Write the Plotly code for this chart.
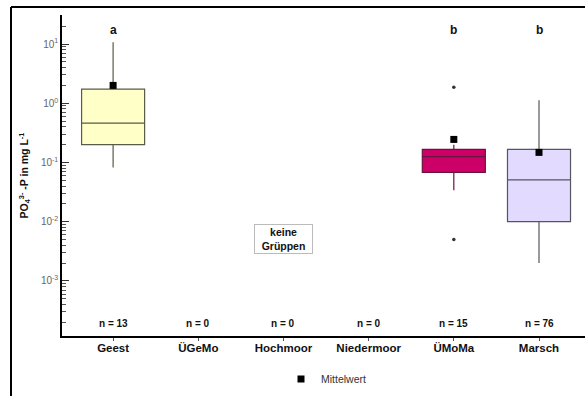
import plotly.graph_objects as go
import numpy as np

categories = ["Geest", "ÜGeMo", "Hochmoor", "Niedermoor", "ÜMoMa", "Marsch"]
n_counts = [13, 0, 0, 0, 15, 76]
letters = ["a", "", "", "", "b", "b"]

box_cats = [0, 4, 5]
q1 = [0.20, 0.068, 0.010]
median = [0.46, 0.126, 0.051]
q3 = [1.73, 0.166, 0.166]
lower_whisker = [0.082, 0.034, 0.002]
upper_whisker = [10.7, 0.20, 1.12]
means = [2.0, 0.245, 0.148]
fills = ["#FFFFC8", "#CC0066", "#E2DAFF"]
edges = ["#5A5A48", "#6A1440", "#555560"]

outlier_x = [4, 4]
outlier_y = [1.87, 0.005]

FONT = "Arial, Liberation Sans, sans-serif"

fig = go.Figure()
for i, c in enumerate(box_cats):
    fig.add_trace(go.Box(
        x=[c], q1=[q1[i]], median=[median[i]], q3=[q3[i]],
        lowerfence=[lower_whisker[i]], upperfence=[upper_whisker[i]],
        fillcolor=fills[i], line=dict(color=edges[i], width=1.2),
        whiskerwidth=0, width=0.74, showlegend=False, hoverinfo="skip",
    ))

fig.add_trace(go.Scatter(
    x=outlier_x, y=outlier_y, mode="markers",
    marker=dict(symbol="circle", size=3.5, color="#333"),
    showlegend=False, hoverinfo="skip"))

fig.add_trace(go.Scatter(
    x=box_cats, y=means, mode="markers", name="Mittelwert",
    marker=dict(symbol="square", size=7, color="black"),
    showlegend=True, hoverinfo="skip"))

tickvals = [1e-3, 1e-2, 1e-1, 1, 10]
ticktext = ["10<sup>-3</sup>", "10<sup>-2</sup>", "10<sup>-1</sup>", "10<sup>0</sup>", "10<sup>1</sup>"]

L, R, T, B = 62, 0, 15, 60
W, H = 585, 396
ph = H - T - B
pw = W - L - R

def py(pix):
    return (H - B - pix) / ph

def px(pix):
    return (pix - L) / pw

annotations = []
for i, cat in enumerate(categories):
    annotations.append(dict(x=i, y=py(323), xref="x", yref="paper",
                            xanchor="center", yanchor="middle",
                            text=f"<b>n = {n_counts[i]}</b>", showarrow=False,
                            font=dict(family=FONT, size=10, color="#111")))
    if letters[i]:
        annotations.append(dict(x=i, y=py(30), xref="x", yref="paper",
                                xanchor="center", yanchor="middle",
                                text=f"<b>{letters[i]}</b>", showarrow=False,
                                font=dict(family=FONT, size=12, color="#111")))

annotations.append(dict(x=2, y=py(238.5), xref="x", yref="paper",
                        xanchor="center", yanchor="middle",
                        text="<b>keine<br>Grüppen</b>", showarrow=False,
                        font=dict(family=FONT, size=10.5, color="#111"),
                        bgcolor="white", bordercolor="#BBBBBB", borderwidth=1,
                        borderpad=1, width=55))

fig.update_layout(
    width=W, height=H,
    margin=dict(l=L, r=R, t=T, b=B),
    paper_bgcolor="white", plot_bgcolor="white",
    font=dict(family=FONT, color="#111"),
    xaxis=dict(
        range=[-0.6, 5.54], tickvals=list(range(len(categories))),
        ticktext=[f"<b>{c}</b>" for c in categories],
        tickfont=dict(family=FONT, size=11.5, color="#111"),
        showline=True, linecolor="black", linewidth=2,
        ticks="outside", ticklen=3, tickcolor="#555",
        ticklabelstandoff=-3,
        showgrid=False, zeroline=False,
    ),
    yaxis=dict(
        type="log", range=[-3.93, 1.49],
        tickvals=tickvals, ticktext=ticktext,
        tickfont=dict(family=FONT, size=10, color="#666"),
        showline=True, linecolor="black", linewidth=1.5,
        ticks="inside", ticklen=7, tickcolor="#333",
        minor=dict(ticks="inside", ticklen=4, tickcolor="#555",
                   tickvals=[k * 10.0**e for e in range(-4, 2) for k in range(2, 10)]),
        showgrid=False, zeroline=False,
        title=dict(text="<b>PO<sub>4</sub><sup>3-</sup> -P in mg L<sup>-1</sup></b>",
                   font=dict(family=FONT, size=10.5, color="#111"), standoff=10),
    ),
    legend=dict(orientation="h", x=px(281), y=py(379), xanchor="left", yanchor="middle",
                itemwidth=30,
                font=dict(family=FONT, size=10.5, color="#333"), bgcolor="rgba(0,0,0,0)"),
    annotations=annotations,
    shapes=[
        dict(type="line", xref="paper", yref="paper",
             x0=px(11), x1=px(600), y0=py(7), y1=py(7),
             line=dict(color="black", width=2)),
        dict(type="line", xref="paper", yref="paper",
             x0=px(11), x1=px(11), y0=py(7), y1=py(420),
             line=dict(color="black", width=2)),
    ],
)

fig.write_html("out.html",
               post_script="document.body.style.margin='0';document.body.style.overflow='hidden';")
